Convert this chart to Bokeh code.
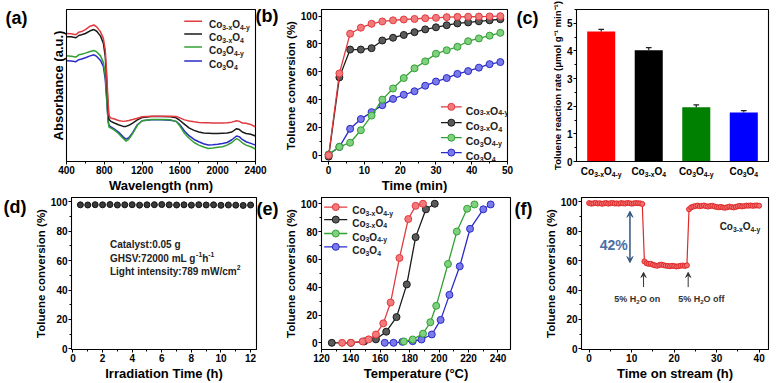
import numpy as np
from bokeh.plotting import figure
from bokeh.layouts import column, row
from bokeh.models import (Label, Range1d, SingleIntervalTicker, FixedTicker, Arrow, VeeHead,
                          LinearAxis)
from bokeh.embed import file_html
from bokeh.resources import INLINE

FONT = "Liberation Sans"

# ---------------- data ----------------
# series names as (text, 0=normal 1=subscript)
name_a = [("Co", 0), ("3-x", 1), ("O", 0), ("4-y", 1)]
name_b = [("Co", 0), ("3-x", 1), ("O", 0), ("4", 1)]
name_c = [("Co", 0), ("3", 1), ("O", 0), ("4-y", 1)]
name_d = [("Co", 0), ("3", 1), ("O", 0), ("4", 1)]
series_names = [name_a, name_b, name_c, name_d]

# (a) UV-vis-NIR absorbance (normalised a.u.)
wl = [400, 450, 500, 530, 560, 600, 650, 690, 720, 760, 790, 810, 825, 840, 850, 870, 900, 950,
      1000, 1030, 1060, 1100, 1150, 1200, 1300, 1400, 1500, 1560, 1600, 1650, 1700, 1750, 1800,
      1850, 1900, 1950, 2000, 2050, 2100, 2150, 2200, 2230, 2260, 2300, 2350, 2400]
abs_red = [.842, .840, .834, .851, .855, .868, .890, .898, .886, .853, .810, .734, .583, .389, .302,
           .285, .281, .270, .264, .266, .270, .276, .285, .294, .298, .298, .298, .296, .287, .274,
           .266, .261, .257, .255, .255, .253, .253, .253, .255, .259, .268, .264, .253, .251, .244, .227]
abs_black = [.821, .821, .814, .829, .834, .842, .860, .868, .857, .825, .778, .691, .540, .346, .276,
             .264, .255, .242, .231, .231, .238, .253, .274, .289, .296, .296, .294, .287, .270, .244,
             .220, .205, .194, .188, .186, .184, .184, .186, .188, .194, .216, .210, .194, .184, .179, .168]
abs_green = [.695, .693, .687, .702, .706, .713, .724, .730, .721, .695, .652, .572, .432, .259, .227,
             .220, .210, .184, .151, .134, .147, .184, .238, .268, .276, .276, .274, .264, .233, .184,
             .151, .125, .108, .095, .086, .089, .093, .097, .108, .125, .151, .140, .123, .108, .097, .082]
abs_blue = [.663, .661, .657, .670, .674, .683, .695, .702, .691, .665, .626, .540, .410, .270, .238,
            .227, .216, .194, .162, .147, .156, .190, .242, .268, .274, .274, .272, .264, .242, .199,
            .168, .145, .130, .117, .108, .110, .114, .119, .125, .143, .168, .162, .145, .130, .119, .108]

# (b) conversion vs time (min)
t_min = [0, 3, 6, 9, 12, 15, 18, 21, 24, 27, 30, 33, 36, 39, 42, 45, 48]
b_red = [0, 58.8, 87.4, 91.7, 94.5, 96.2, 97.0, 97.6, 98.0, 98.5, 98.8, 99.3, 99.5, 99.6, 99.7, 99.8, 100]
b_black = [-1, 56, 76, 76, 77, 82.5, 84.5, 86.5, 88.5, 90.5, 92, 93.5, 94.8, 95.5, 96.3, 97, 97.8]
b_green = [0.5, 6, 9, 18, 28.5, 40, 48, 55.5, 62.5, 67.5, 73, 75.5, 78, 82, 84, 86, 88]
b_blue = [0.5, 6, 19, 26, 31, 36, 40.5, 43.5, 46, 50, 53, 55.5, 58.5, 60.5, 63, 65.5, 67]

# (c) reaction rate
c_pos = [1, 2, 3, 4]
c_rate = [4.70, 4.03, 1.96, 1.77]
c_err = [0.08, 0.09, 0.09, 0.07]

# (d) stability under irradiation
d_time = [0.5, 1, 1.5, 2, 2.5, 3, 3.5, 4, 4.5, 5, 5.5, 6, 6.5, 7, 7.5, 8, 8.5, 9, 9.5, 10, 10.5, 11, 11.5, 12]
d_conv = [98.0, 97.9, 98.1, 98.0, 98.2, 97.9, 98.0, 98.1, 97.8, 98.0, 98.1, 98.2, 98.0, 97.9, 98.0,
          97.8, 98.1, 97.9, 98.0, 97.7, 97.9, 97.8, 97.6, 97.9]

# (e) conversion vs temperature
e_red_T = [134, 140, 148, 152, 157, 162, 167, 173, 179, 184, 189]
e_red = [0, 0, 1, 2.5, 6, 14, 29, 61, 89, 98.5, 100]
e_black_T = [127, 140, 149, 157, 164, 171, 178, 184, 191, 197]
e_black = [0, 0, 1, 2.5, 8, 18.5, 42, 76, 96, 100]
e_green_T = [176, 182, 189, 194, 198, 206, 212, 219, 224]
e_green = [1, 2.4, 6.6, 14.8, 26.6, 56.7, 80, 96.4, 99.5]
e_blue_T = [163, 169, 175, 182, 188, 195, 201, 207, 214, 221, 230, 235]
e_blue = [0, 0, 0.7, 1.2, 2.4, 6, 16.5, 34.5, 55, 82, 96, 99.5]

# (f) water resistance, every 0.5 h from 0 to 40 h
f_time = np.arange(0, 40.01, 0.5)
f_conv = [99.2, 98.8, 99.0, 99.3, 98.9, 99.1, 98.7, 99.0, 99.2, 98.8, 99.1, 99.3, 98.9, 99.0, 98.8,
          99.2, 99.0, 98.9, 99.3, 99.1, 98.8, 99.0, 99.2, 99.1, 99.0, 98.6,
          59.5, 58.2, 57.8, 57.9, 57.2, 56.8, 56.5, 57.0, 57.3, 56.9, 56.6, 56.4, 56.2, 56.5, 56.3,
          56.0, 56.2, 56.5, 56.7, 56.4, 56.8,
          95.0, 96.3, 96.8, 97.2, 97.5, 97.0, 97.3, 97.6, 97.1, 96.8, 97.2, 97.4, 96.9, 96.5, 96.3,
          96.6, 96.2, 96.0, 96.4, 96.8, 96.5, 96.2, 96.6, 97.0, 97.3, 96.9, 97.2, 97.5, 97.4, 97.6,
          97.3, 97.5, 97.6, 97.4]

# ---------------- styles ----------------
LINE = ["#e23a3f", "#1a1a1a", "#33a033", "#2a2ac8"]
FILL = ["#f27a7a", "#5a5a5a", "#7fd07f", "#7a7ae8"]
BAR = ["#ff0000", "#000000", "#008000", "#0000ff"]

WID = {'C': 722, 'o': 611, 'O': 778, '-': 333, 'x': 556, 'y': 556, 'H': 722, '%': 889, ' ': 278,
       'n': 611, 'f': 333, '(': 333, ')': 333, 'a': 556, 'b': 611, 'c': 556, 'd': 611, 'e': 556,
       'g': 611, 'h': 611, 'i': 278, 'l': 278, 'm': 889, 'r': 389, 's': 556, 't': 333, 'u': 611,
       'v': 556, 'w': 778, 'L': 611, 'G': 778, 'S': 667, 'V': 667, 'W': 944, 'T': 611, 'I': 278,
       'k': 556, ':': 333, '.': 278, '/': 278}
SUB = 0.68


def text_w(s, size):
    return sum(WID.get(ch, 556) for ch in s) / 1000.0 * size


def rich(p, x, y, parts, size, color="black", align="left", dx=0.0, dy=0.0):
    small = size * SUB
    total = sum(text_w(t, small if f else size) for t, f in parts)
    off = dx - (total / 2.0 if align == "center" else 0.0)
    for t, f in parts:
        s = small if f else size
        shift = {0: 0.0, 1: -0.28 * size, 2: 0.42 * size}[f]
        p.add_layout(Label(x=x, y=y, x_offset=off, y_offset=dy + shift, text=t,
                           text_font=FONT, text_font_style="bold", text_font_size=f"{s:.1f}px",
                           text_color=color, text_baseline="alphabetic", text_align="left"))
        off += text_w(t, s)


def style_axis(ax):
    ax.axis_line_color = "black"
    ax.major_tick_out = 3
    ax.major_tick_in = 0
    ax.minor_tick_out = 2
    ax.minor_tick_in = 0
    ax.major_tick_line_color = "black"
    ax.minor_tick_line_color = "black"
    ax.major_label_text_font = FONT
    ax.major_label_text_font_style = "bold"
    ax.major_label_text_font_size = "10px"
    ax.major_label_text_color = "black"
    ax.major_label_standoff = 1
    ax.axis_label_text_font = FONT
    ax.axis_label_text_font_style = "bold"
    ax.axis_label_text_color = "black"
    ax.axis_label_standoff = 1


def make_fig(xr, yr, L, W, R, T, H, B):
    p = figure(width=L + W + R, height=T + H + B, x_range=Range1d(*xr), y_range=Range1d(*yr),
               output_backend="svg", toolbar_location=None, title=None,
               min_border_left=L, min_border_right=R, min_border_top=T, min_border_bottom=B)
    p.xgrid.visible = False
    p.ygrid.visible = False
    p.outline_line_color = "black"
    p.outline_line_width = 1.1
    p.outline_line_alpha = 1
    p.background_fill_color = "white"
    p.border_fill_color = "white"
    style_axis(p.xaxis[0])
    style_axis(p.yaxis[0])
    p.xaxis[0].axis_label_text_font_size = "13px"
    p.yaxis[0].axis_label_text_font_size = "11.5px"
    return p


def letter_axis(p, side, yval, txt, standoff):
    ax = LinearAxis(ticker=FixedTicker(ticks=[yval]), major_label_overrides={yval: txt},
                    axis_line_color=None, major_tick_out=0, major_tick_in=0,
                    minor_tick_out=0, minor_tick_in=0, major_label_standoff=standoff,
                    major_label_text_font=FONT, major_label_text_font_style="bold",
                    major_label_text_font_size="18px", major_label_text_color="black")
    p.add_layout(ax, side)


T1, H1, B1 = 9, 154, 32
T2, H2, B2 = 2, 154, 32

# ---------------- (a) ----------------
pa = make_fig((400, 2400), (0, 1), 66, 191, 24, T1, H1, B1)
pa.xaxis.ticker = SingleIntervalTicker(interval=400, num_minor_ticks=2)
pa.yaxis.ticker = FixedTicker(ticks=[])
pa.yaxis[0].major_tick_out = 0
pa.yaxis[0].minor_tick_out = 0
pa.yaxis[0].major_label_standoff = 0
pa.xaxis.axis_label = "Wavelength (nm)"
pa.yaxis.axis_label = "Absorbance (a.u.)"
pa.yaxis[0].axis_label_text_font_size = "13px"
for ys, i in ((abs_blue, 3), (abs_green, 2), (abs_black, 1), (abs_red, 0)):
    pa.line(wl, ys, line_color=LINE[i], line_width=1.5)
for i, ly in enumerate([.922, .838, .753, .662]):
    pa.line([1646, 1834], [ly, ly], line_color=LINE[i], line_width=1.5)
    rich(pa, 1908, ly, series_names[i], 10, color="#222222", dy=-3.5)
letter_axis(pa, "left", 0.942, "(a)", 20)
letter_axis(pa, "right", 0.958, "(b)", 0)

# ---------------- (b) ----------------
pb = make_fig((-2, 50), (-4.5, 104.8), 38, 191, 31, T1, H1, B1)
pb.xaxis.ticker = SingleIntervalTicker(interval=10, num_minor_ticks=2)
pb.yaxis.ticker = SingleIntervalTicker(interval=20, num_minor_ticks=2)
pb.xaxis.axis_label = "Time (min)"
pb.yaxis.axis_label = "Toluene conversion (%)"
for ys, i in ((b_blue, 3), (b_green, 2), (b_black, 1), (b_red, 0)):
    pb.line(t_min, ys, line_color=LINE[i], line_width=1.3)
    pb.scatter(t_min, ys, marker="circle", size=7, fill_color=FILL[i], line_color=LINE[i], line_width=1)
for i, ly in enumerate([34.8, 23.4, 12.6, 1.9]):
    pb.line([31.4, 37.2], [ly, ly], line_color=LINE[i], line_width=1.3)
    pb.scatter([34.3], [ly], marker="circle", size=7, fill_color=FILL[i], line_color=LINE[i])
    rich(pb, 38.3, ly, series_names[i], 10.5, color="#222222", dy=-3.7)
letter_axis(pb, "right", 98.4, "(c)", 9)

# ---------------- (c) ----------------
pc = make_fig((0.48, 4.52), (0, 5.5), 35, 192, 11, T1, H1, B1)
pc.yaxis.ticker = SingleIntervalTicker(interval=1, num_minor_ticks=2)
pc.yaxis.axis_label = "Toluene reaction rate (\u03bcmol g\u207b\u00b9 min\u207b\u00b9)"
pc.yaxis[0].axis_label_text_font_size = "9.6px"
pc.vbar(x=c_pos, top=c_rate, width=0.59, bottom=0, fill_color=BAR, line_color=None)
cx = np.array(c_pos, dtype=float)
ctop = np.array(c_rate) + np.array(c_err)
pc.segment(x0=cx, y0=c_rate, x1=cx, y1=ctop, line_color="#222222", line_width=1.2)
pc.segment(x0=cx - 0.06, y0=ctop, x1=cx + 0.06, y1=ctop, line_color="#222222", line_width=1.2)

# category labels with subscripts: main parts on the axis, subscripts on a second axis just below
pxu = 192 / (4.52 - 0.48)
big, small = {}, {}
for c, parts in zip(c_pos, series_names):
    widths = [text_w(t, 10 * SUB if f else 10) for t, f in parts]
    x = c - sum(widths) / 2 / pxu
    for (t, f), w in zip(parts, widths):
        mid = round(x + w / 2 / pxu, 4)
        (small if f else big)[mid] = t
        x += w / pxu
axc = pc.xaxis[0]
axc.ticker = FixedTicker(ticks=list(big.keys()))
axc.major_label_overrides = big
axc.major_tick_out = 0
axc.minor_tick_out = 0
axc.major_label_standoff = 4
axs = LinearAxis(ticker=FixedTicker(ticks=list(small.keys())), major_label_overrides=small,
                 axis_line_color=None, major_tick_out=0, major_tick_in=0, minor_tick_out=0,
                 minor_tick_in=0, major_label_standoff=-9, major_label_text_font=FONT,
                 major_label_text_font_style="bold", major_label_text_font_size=f"{10 * SUB:.1f}px",
                 major_label_text_color="black")
pc.add_layout(axs, "below")

# ---------------- (d) ----------------
pd = make_fig((-0.1, 12.4), (-0.5, 103), 65, 192, 24, T2, H2, B2)
pd.xaxis.ticker = SingleIntervalTicker(interval=2, num_minor_ticks=2)
pd.yaxis.ticker = SingleIntervalTicker(interval=20, num_minor_ticks=2)
pd.xaxis.axis_label = "Irradiation Time (h)"
pd.yaxis.axis_label = "Toluene conversion (%)"
pd.scatter(d_time, d_conv, marker="circle", size=6, fill_color="#3a3a3a", line_color="#111111")
rich(pd, 2.5, 73.2, [("Catalyst:0.05 g", 0)], 10, color="#222222", dy=-3.5)
rich(pd, 2.5, 64.0, [("GHSV:72000 mL g", 0), ("-1", 2), ("h", 0), ("-1", 2)], 10, color="#222222", dy=-3.5)
rich(pd, 2.5, 55.0, [("Light intensity:789 mW/cm", 0), ("2", 2)], 10, color="#222222", dy=-3.5)
letter_axis(pd, "left", 98.3, "(d)", 5)
letter_axis(pd, "right", 99.6, "(e)", 0)

# ---------------- (e) ----------------
pe = make_fig((120, 248.5), (-4.8, 104.5), 38, 191, 31, T2, H2, B2)
pe.xaxis.ticker = SingleIntervalTicker(interval=20, num_minor_ticks=2)
pe.yaxis.ticker = SingleIntervalTicker(interval=20, num_minor_ticks=2)
pe.xaxis.axis_label = "Temperature (\u00b0C)"
pe.yaxis.axis_label = "Toluene conversion (%)"
for xs, ys, i in ((e_blue_T, e_blue, 3), (e_green_T, e_green, 2), (e_black_T, e_black, 1), (e_red_T, e_red, 0)):
    pe.line(xs, ys, line_color=LINE[i], line_width=1.3)
    pe.scatter(xs, ys, marker="circle", size=7, fill_color=FILL[i], line_color=LINE[i])
for i, ly in enumerate([97.6, 88.6, 78.6, 69.0]):
    pe.line([121.8, 137.5], [ly, ly], line_color=LINE[i], line_width=1.3)
    pe.scatter([129.7], [ly], marker="circle", size=7, fill_color=FILL[i], line_color=LINE[i])
    rich(pe, 140.9, ly, series_names[i], 10, color="#222222", dy=-3.5)
letter_axis(pe, "right", 101.0, "(f)", 4)

# ---------------- (f) ----------------
pf = make_fig((-1.8, 42.2), (-0.5, 103), 35, 192, 11, T2, H2, B2)
pf.xaxis.ticker = SingleIntervalTicker(interval=10, num_minor_ticks=2)
pf.yaxis.ticker = SingleIntervalTicker(interval=20, num_minor_ticks=2)
pf.xaxis.axis_label = "Time on stream (h)"
pf.yaxis.axis_label = "Toluene conversion (%)"
pf.line(f_time, f_conv, line_color="#e02828", line_width=1.2)
pf.scatter(f_time, f_conv, marker="circle", size=5, fill_color="#f07070", line_color="#e02828", line_width=1)
pf.add_layout(Arrow(start=VeeHead(size=6, fill_color="#34557f", line_color="#34557f"),
                    end=VeeHead(size=6, fill_color="#34557f", line_color="#34557f"),
                    x_start=9.6, y_start=58.7, x_end=9.6, y_end=93.6,
                    line_color="#34557f", line_width=1.5))
rich(pf, 5.8, 74.1, [("42%", 0)], 14, color="#4a6fa5", align="center", dy=-5)
for ax_x, tx, lab in ((12.8, 11.3, "O on"), (23.3, 26.4, "O off")):
    pf.add_layout(Arrow(end=VeeHead(size=5, fill_color="#333333", line_color="#333333"),
                        x_start=ax_x, y_start=42, x_end=ax_x, y_end=52,
                        line_color="#333333", line_width=1))
    rich(pf, tx, 35.6, [("5% H", 0), ("2", 1), (lab, 0)], 9, color="#333333", align="center", dy=-3)
rich(pf, 30.7, 85.5, series_names[0], 10, color="#222222", dy=-3.5)

layout = column(row(pa, pb, pc), row(pd, pe, pf))
open("out.html", "w").write(file_html(layout, INLINE))
